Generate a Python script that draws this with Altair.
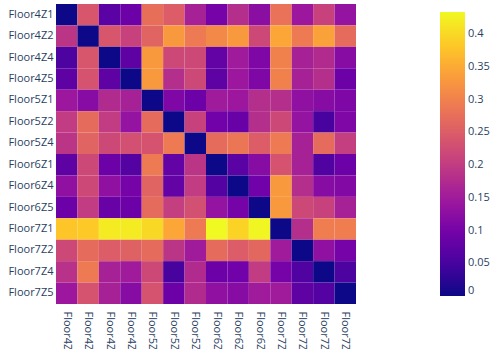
import altair as alt
import pandas as pd

zones = ["Floor4Z1", "Floor4Z2", "Floor4Z4", "Floor4Z5", "Floor5Z1", "Floor5Z2", "Floor5Z4",
         "Floor6Z1", "Floor6Z4", "Floor6Z5", "Floor7Z1", "Floor7Z2", "Floor7Z4", "Floor7Z5"]

# one list per row zone, columns in the same order as `zones`
floor4z1 = [0, 0.24, 0.07, 0.09, 0.275, 0.25, 0.16, 0.10, 0.18, 0.125, 0.28, 0.145, 0.21, 0.135]
floor4z2 = [0.19, 0, 0.24, 0.21, 0.26, 0.33, 0.29, 0.31, 0.33, 0.22, 0.345, 0.29, 0.34, 0.27]
floor4z4 = [0.055, 0.24, 0, 0.075, 0.33, 0.22, 0.22, 0.08, 0.15, 0.11, 0.30, 0.16, 0.175, 0.12]
floor4z5 = [0.075, 0.235, 0.075, 0, 0.33, 0.18, 0.22, 0.075, 0.145, 0.11, 0.30, 0.16, 0.18, 0.09]
floor5z1 = [0.145, 0.12, 0.175, 0.16, 0, 0.11, 0.09, 0.15, 0.145, 0.18, 0.18, 0.13, 0.12, 0.11]
floor5z2 = [0.20, 0.27, 0.20, 0.135, 0.27, 0, 0.21, 0.095, 0.085, 0.18, 0.22, 0.135, 0.05, 0.11]
floor5z4 = [0.19, 0.26, 0.22, 0.23, 0.235, 0.29, 0, 0.27, 0.285, 0.25, 0.29, 0.16, 0.27, 0.205]
floor6z1 = [0.075, 0.22, 0.09, 0.065, 0.29, 0.08, 0.19, 0, 0.07, 0.12, 0.235, 0.16, 0.06, 0.09]
floor6z4 = [0.13, 0.22, 0.13, 0.10, 0.26, 0.08, 0.20, 0.065, 0, 0.095, 0.33, 0.18, 0.12, 0.115]
floor6z5 = [0.09, 0.20, 0.085, 0.09, 0.27, 0.205, 0.23, 0.135, 0.10, 0, 0.33, 0.22, 0.21, 0.16]
floor7z1 = [0.38, 0.385, 0.42, 0.42, 0.40, 0.345, 0.29, 0.434, 0.395, 0.43, 0, 0.18, 0.295, 0.295]
floor7z2 = [0.22, 0.27, 0.25, 0.255, 0.27, 0.19, 0.15, 0.27, 0.25, 0.265, 0.15, 0, 0.13, 0.10]
floor7z4 = [0.185, 0.29, 0.16, 0.15, 0.22, 0.05, 0.175, 0.09, 0.095, 0.20, 0.10, 0.06, 0, 0.055]
floor7z5 = [0.145, 0.235, 0.16, 0.12, 0.235, 0.09, 0.175, 0.13, 0.12, 0.15, 0.15, 0.075, 0.065, 0]

matrix = [floor4z1, floor4z2, floor4z4, floor4z5, floor5z1, floor5z2, floor5z4,
          floor6z1, floor6z4, floor6z5, floor7z1, floor7z2, floor7z4, floor7z5]

colorbar_ticks = [0, 0.05, 0.1, 0.15, 0.2, 0.25, 0.3, 0.35, 0.4]

plasma = ["#0d0887", "#46039f", "#7201a8", "#9c179e", "#bd3786",
          "#d8576b", "#ed7953", "#fb9f3a", "#fdca26", "#f0f921"]

records = []
for row_name, row in zip(zones, matrix):
    for col_name, v in zip(zones, row):
        records.append({"row": row_name, "col": col_name, "value": v})
df = pd.DataFrame(records)

text_color = "#2a3f5f"
font = "Open Sans"

chart = alt.Chart(df).mark_rect().encode(
    x=alt.X("col:N", sort=zones, title=None,
            scale=alt.Scale(paddingInner=0, paddingOuter=0),
            axis=alt.Axis(labelAngle=90, labelAlign="left", labelBaseline="middle",
                          ticks=False, domain=False, grid=False, labelPadding=7,
                          labelFontSize=11, labelColor=text_color, labelFont=font)),
    y=alt.Y("row:N", sort=zones, title=None,
            scale=alt.Scale(paddingInner=0, paddingOuter=0),
            axis=alt.Axis(ticks=False, domain=False, grid=False, labelPadding=3,
                          labelFontSize=11, labelColor=text_color, labelFont=font)),
    color=alt.Color("value:Q",
                    scale=alt.Scale(domain=[0, 0.434], range=plasma, interpolate="rgb"),
                    legend=alt.Legend(title=None, orient="none", legendX=384, legendY=8,
                                      direction="vertical", gradientLength=284,
                                      gradientThickness=25, gradientStrokeWidth=0,
                                      values=colorbar_ticks, labelOverlap=True,
                                      labelFontSize=11, labelColor=text_color,
                                      labelFont=font, labelOffset=3,
                                      labelBaseline="middle", format=".2~f")),
).properties(
    width=300,
    height=300,
    autosize=alt.AutoSizeParams(type="none"),
    padding={"left": 56, "top": 4, "right": 136, "bottom": 45},
).configure_view(strokeWidth=0)

chart.save("out.html", embed_options={"renderer": "svg", "actions": False})
